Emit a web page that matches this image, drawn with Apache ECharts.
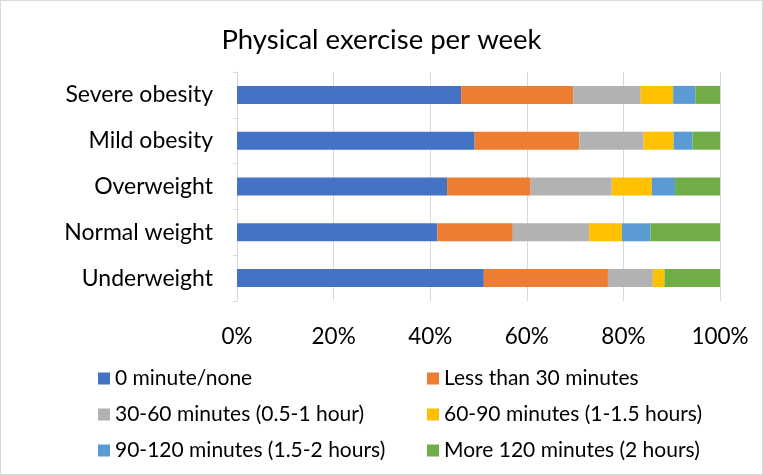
<!DOCTYPE html>
<html>
<head>
<meta charset="utf-8">
<script src="https://cdn.jsdelivr.net/npm/echarts@6/dist/echarts.min.js"></script>
<style>
  html, body { margin: 0; padding: 0; background: #fff; }
  #chart { width: 763px; height: 475px; box-sizing: border-box; border: 1px solid #d9d9d9; }
</style>
</head>
<body>
<div id="chart"></div>
<script>
// categories bottom -> top, as the axis draws them
const groups = ['Underweight', 'Normal weight', 'Overweight', 'Mild obesity', 'Severe obesity'];
const seriesNames = [
  '0 minute/none',
  'Less than 30 minutes',
  '30-60 minutes (0.5-1 hour)',
  '60-90 minutes (1-1.5 hours)',
  '90-120 minutes (1.5-2 hours)',
  'More 120 minutes (2 hours)'
];
// percent share of each group
const noneVals = [51.1, 41.5, 43.5, 49.2, 46.4];
const lt30Vals = [25.7, 15.6, 17.3, 21.7, 23.2];
const m30to60Vals = [9.3, 15.8, 16.8, 13.3, 14.0];
const m60to90Vals = [2.4, 6.8, 8.3, 6.2, 6.7];
const m90to120Vals = [0, 5.9, 4.8, 3.9, 4.6];
const over120Vals = [11.5, 14.4, 9.3, 5.7, 5.1];
const colors = ['#4472C4', '#ED7D31', '#B2B2B2', '#FFC000', '#5B9BD5', '#70AD47'];

const allVals = [noneVals, lt30Vals, m30to60Vals, m60to90Vals, m90to120Vals, over120Vals];
const font = 'Lato, "Open Sans", sans-serif';

const chart = echarts.init(document.getElementById('chart'));

const legendBase = {
  orient: 'vertical',
  top: 362,
  itemWidth: 12,
  itemHeight: 12,
  itemGap: 15,
  icon: 'rect',
  textStyle: { fontFamily: font, fontSize: 21, color: '#000', lineHeight: 21 }
};

chart.setOption({
  animation: false,
  color: colors,
  title: {
    text: 'Physical exercise per week',
    left: 'center',
    top: 20,
    textStyle: { fontFamily: font, fontSize: 27.5, fontWeight: 'normal', color: '#000' }
  },
  legend: [
    Object.assign({}, legendBase, { left: 92, data: [seriesNames[0], seriesNames[2], seriesNames[4]] }),
    Object.assign({}, legendBase, { left: 421, data: [seriesNames[1], seriesNames[3], seriesNames[5]] })
  ],
  grid: { left: 236, right: 42, top: 71, bottom: 173, containLabel: false },
  xAxis: {
    type: 'value',
    min: 0,
    max: 100,
    interval: 20,
    axisLine: { show: false },
    axisTick: { show: false },
    splitLine: { lineStyle: { color: '#d9d9d9', width: 1 } },
    axisLabel: { formatter: '{value}%', margin: 24, fontFamily: font, fontSize: 22.5, color: '#000' }
  },
  yAxis: {
    type: 'category',
    data: groups,
    axisLine: { show: true, lineStyle: { color: '#d9d9d9' } },
    axisTick: { show: true, length: 4, lineStyle: { color: '#d9d9d9' } },
    axisLabel: { margin: 24, fontFamily: font, fontSize: 23, color: '#000' }
  },
  series: seriesNames.map((name, i) => ({
    name: name,
    type: 'bar',
    stack: 'total',
    barWidth: 18,
    data: allVals[i]
  }))
});
</script>
</body>
</html>
